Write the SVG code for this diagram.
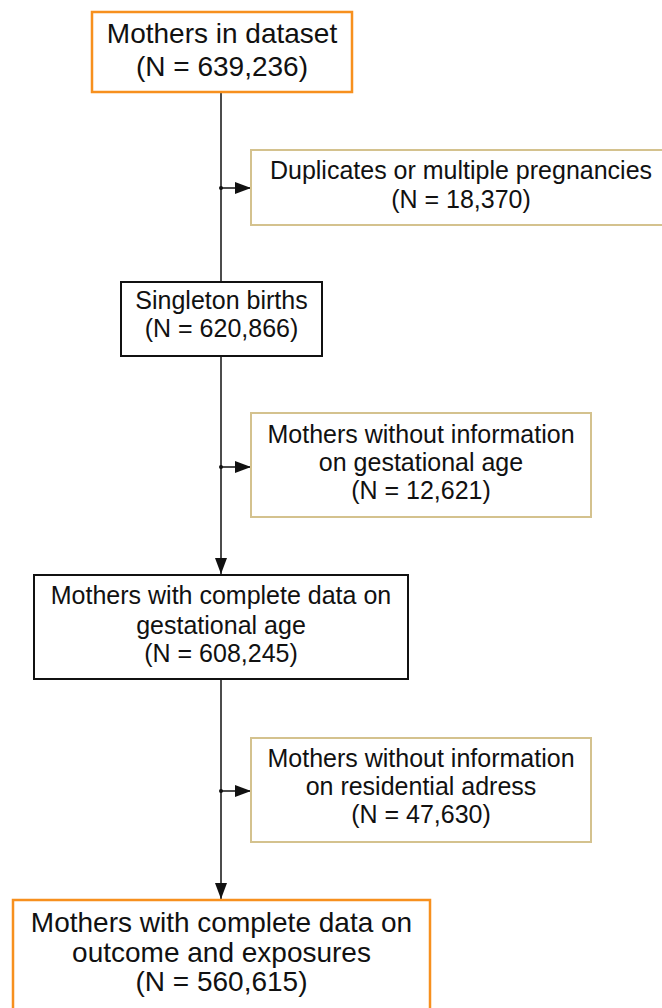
<svg xmlns="http://www.w3.org/2000/svg" width="662" height="1008" viewBox="0 0 662 1008">
<style>
.t{font-family:"Liberation Sans",Arial,sans-serif;fill:#111;text-anchor:middle}
.s25{font-size:25px}
.s28{font-size:28px}
.main{fill:#fff;stroke:#111;stroke-width:2}
.key{fill:#fff;stroke:#f7901e;stroke-width:2.5}
.exc{fill:#fff;stroke:#d4c28e;stroke-width:2}
.ln{stroke:#111;stroke-width:1.5;fill:none}
</style>
<defs>
<marker id="ah" markerWidth="16" markerHeight="12" refX="16" refY="6" orient="auto" markerUnits="userSpaceOnUse">
<path d="M0,0 L16,6 L0,12 Z" fill="#111"/>
</marker>
</defs>
<rect width="662" height="1008" fill="#fff"/>
<g id="connectors">
<line class="ln" x1="221" y1="92" x2="221" y2="282"/>
<line class="ln" x1="221" y1="356" x2="221" y2="574" marker-end="url(#ah)"/>
<line class="ln" x1="221" y1="679" x2="221" y2="899" marker-end="url(#ah)"/>
<line class="ln" x1="221" y1="188" x2="251" y2="188" marker-end="url(#ah)"/>
<line class="ln" x1="221" y1="467" x2="251" y2="467" marker-end="url(#ah)"/>
<line class="ln" x1="221" y1="791" x2="251" y2="791" marker-end="url(#ah)"/>
<circle cx="221" cy="188" r="2" fill="#111"/>
<circle cx="221" cy="467" r="2" fill="#111"/>
<circle cx="221" cy="791" r="2" fill="#111"/>
</g>
<g id="n1">
<rect class="key" x="92" y="12" width="260" height="80"/>
<text class="t s28" x="222" y="43">Mothers in dataset</text>
<text class="t s28" x="222" y="76">(N = 639,236)</text>
</g>
<g id="n2">
<rect class="exc" x="251" y="150" width="420" height="75"/>
<text class="t s25" x="461" y="179">Duplicates or multiple pregnancies</text>
<text class="t s25" x="461" y="208">(N = 18,370)</text>
</g>
<g id="n3">
<rect class="main" x="121" y="282" width="201" height="74"/>
<text class="t s25" x="221.5" y="309">Singleton births</text>
<text class="t s25" x="221.5" y="337">(N = 620,866)</text>
</g>
<g id="n4">
<rect class="exc" x="251" y="413" width="340" height="104"/>
<text class="t s25" x="421" y="443">Mothers without information</text>
<text class="t s25" x="421" y="471">on gestational age</text>
<text class="t s25" x="421" y="499">(N = 12,621)</text>
</g>
<g id="n5">
<rect class="main" x="34" y="575" width="374" height="104"/>
<text class="t s25" x="221" y="604">Mothers with complete data on</text>
<text class="t s25" x="221" y="634">gestational age</text>
<text class="t s25" x="221" y="662">(N = 608,245)</text>
</g>
<g id="n6">
<rect class="exc" x="251" y="738" width="340" height="104"/>
<text class="t s25" x="421" y="767">Mothers without information</text>
<text class="t s25" x="421" y="795">on residential adress</text>
<text class="t s25" x="421" y="823">(N = 47,630)</text>
</g>
<g id="n7">
<rect class="key" x="13" y="900" width="417" height="120"/>
<text class="t s28" x="221.5" y="932">Mothers with complete data on</text>
<text class="t s28" x="221.5" y="962">outcome and exposures</text>
<text class="t s28" x="221.5" y="991">(N = 560,615)</text>
</g>
</svg>
